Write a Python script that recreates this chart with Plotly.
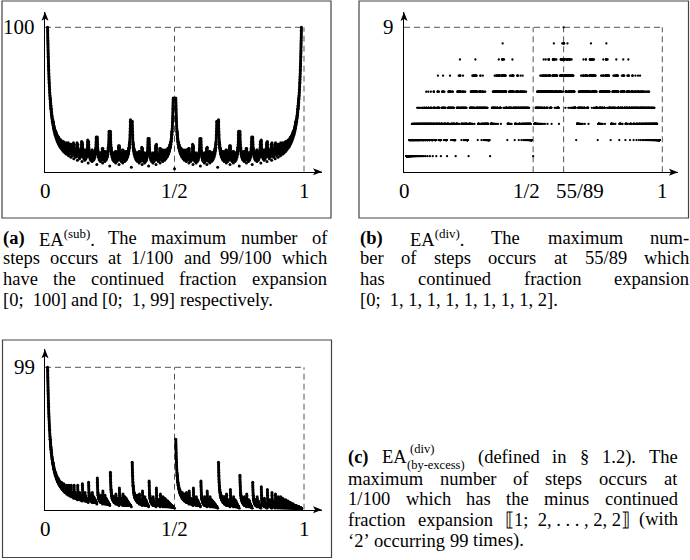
import math
import plotly.graph_objects as go

# ---------------- data ----------------
# Every reduced fraction p/q in (0,1) with denominator q <= 100,
# and the number of steps each Euclidean-algorithm variant needs for it.
MAX_DENOMINATOR = 100

fractions = [(p, q) for q in range(2, MAX_DENOMINATOR + 1)
             for p in range(1, q) if math.gcd(p, q) == 1]
x_values = [p / q for p, q in fractions]


def cf_quotients(p, q):
    """Partial quotients a1, a2, ... of p/q = [0; a1, a2, ...]."""
    out = []
    a, b = q, p
    while b:
        out.append(a // b)
        a, b = b, a % b
    return out


def by_excess_steps(p, q):
    num, den = q, q - p
    steps = 0
    while True:
        steps += 1
        a = -(-num // den)
        r = a * den - num
        if r == 0:
            return steps
        num, den = den, r


steps_sub = [sum(cf_quotients(p, q)) for p, q in fractions]
steps_div = [len(cf_quotients(p, q)) for p, q in fractions]
steps_excess = [by_excess_steps(p, q) for p, q in fractions]

# tick labels
a_xtick_vals = [0, 0.5, 1]
a_xtick_text = ["0", "1/2", "1"]
a_ytick_val = 100
b_xtick_vals = [0, 0.5, 55 / 89, 1]
b_xtick_text = ["0", "1/2", "55/89", "1"]
b_ytick_val = 9
c_xtick_vals = [0, 0.5, 1]
c_xtick_text = ["0", "1/2", "1"]
c_ytick_val = 99

# ---------------- layout helpers ----------------
W, H = 690, 560


def px(x):
    return x / W


def py(y):
    return 1 - y / H


TICK_FONT = dict(family="Liberation Serif", size=21, color="black")
CAP_FONT_FAMILY = "Liberation Serif"
CAP_SIZE = 18.5
SUP_SIZE = 12.5

fig = go.Figure()

panels = [
    dict(xa="x", ya="y", ys=steps_sub, ms=3.0, ox=45, x1=304, tipx=322,
         oy=171.7, ymaxpx=27.3, tipy=11.7, ymax=a_ytick_val,
         xt=a_xtick_vals, xtt=a_xtick_text, xsh=[0, 0, 0], dashed_x=[0.5, 1]),
    dict(xa="x2", ya="y2", ys=steps_div, ms=2.3, ox=404, x1=662.3, tipx=678,
         oy=172.3, ymaxpx=27.3, tipy=12, ymax=b_ytick_val,
         xt=b_xtick_vals, xtt=b_xtick_text, xsh=[0, -6.5, 16.4, 0], dashed_x=[0.5, 55 / 89, 1]),
    dict(xa="x3", ya="y3", ys=steps_excess, ms=3.0, ox=45, x1=304, tipx=322,
         oy=509.7, ymaxpx=367.3, tipy=349.3, ymax=c_ytick_val,
         xt=c_xtick_vals, xtt=c_xtick_text, xsh=[0, 0, 0], dashed_x=[0.5, 1]),
]

shapes = []
annotations = []
layout_axes = {}

for i, pn in enumerate(panels):
    n = "" if i == 0 else str(i + 1)
    fig.add_trace(go.Scatter(
        x=x_values, y=pn["ys"], mode="markers", xaxis=pn["xa"], yaxis=pn["ya"],
        marker=dict(color="black", size=pn["ms"], line=dict(width=0)),
        showlegend=False, hoverinfo="skip"))
    xspan = (pn["tipx"] - pn["ox"]) / (pn["x1"] - pn["ox"])
    yscale = (pn["oy"] - pn["ymaxpx"]) / pn["ymax"]
    yspan = (pn["oy"] - pn["tipy"]) / yscale
    layout_axes["xaxis" + n] = dict(
        domain=[px(pn["ox"]), px(pn["tipx"])], range=[0, xspan],
        anchor=pn["ya"], showgrid=False, zeroline=False, showticklabels=False,
        ticks="", showline=True, linecolor="black", linewidth=1.3)
    layout_axes["yaxis" + n] = dict(
        domain=[py(pn["oy"]), py(pn["tipy"])], range=[0, yspan],
        anchor=pn["xa"], showgrid=False, zeroline=False, showticklabels=False,
        ticks="", showline=True, linecolor="black", linewidth=1.3)
    dash = dict(color="#555555", width=1, dash="6px,4px")
    shapes.append(dict(type="line", xref=pn["xa"], yref=pn["ya"], x0=0, x1=1,
                       y0=pn["ymax"], y1=pn["ymax"], line=dash, layer="below"))
    for dx in pn["dashed_x"]:
        shapes.append(dict(type="line", xref=pn["xa"], yref=pn["ya"], x0=dx, x1=dx,
                           y0=0, y1=pn["ymax"], line=dash, layer="below"))
    tx, ty = pn["tipx"], pn["oy"]
    shapes.append(dict(type="path", xref="paper", yref="paper",
                       path=f"M {px(tx)},{py(ty)} L {px(tx-9)},{py(ty-3.5)} L {px(tx-7)},{py(ty)} L {px(tx-9)},{py(ty+3.5)} Z",
                       fillcolor="black", line=dict(width=0)))
    tx, ty = pn["ox"], pn["tipy"]
    shapes.append(dict(type="path", xref="paper", yref="paper",
                       path=f"M {px(tx)},{py(ty)} L {px(tx-3.5)},{py(ty+9)} L {px(tx)},{py(ty+7)} L {px(tx+3.5)},{py(ty+9)} Z",
                       fillcolor="black", line=dict(width=0)))
    for v, t, s in zip(pn["xt"], pn["xtt"], pn["xsh"]):
        annotations.append(dict(x=v, y=0, xref=pn["xa"], yref=pn["ya"], text=t,
                                showarrow=False, xanchor="center", yanchor="middle",
                                yshift=-19, xshift=s, font=TICK_FONT))
    annotations.append(dict(x=0, y=pn["ymax"], xref=pn["xa"], yref=pn["ya"],
                            text=str(pn["ymax"]), showarrow=False, xanchor="right",
                            yanchor="middle", xshift=-8, font=TICK_FONT))

frame = dict(color="#444444", width=1.2)
for x0, y0, x1, y1 in [(2, 1, 331, 218), (359, 1, 688.5, 218), (2.5, 340, 331.5, 557.5)]:
    shapes.append(dict(type="rect", xref="paper", yref="paper", x0=px(x0), x1=px(x1),
                       y0=py(y0), y1=py(y1), line=frame, fillcolor="rgba(0,0,0,0)"))

# ---------------- captions (justified) ----------------
# Times / Liberation Serif advance widths (em)
CW = {" ": .25, "(": .333, ")": .333, ",": .25, "-": .333, ".": .25, "/": .278, ";": .278,
      "[": .333, "]": .333, "§": .5, "‘": .333, "’": .333, "⟦": .4, "⟧": .4,
      "a": .444, "b": .5, "c": .444, "d": .5, "e": .444, "f": .333, "g": .5, "h": .5, "i": .278,
      "j": .278, "k": .5, "l": .278, "m": .778, "n": .5, "o": .5, "p": .5, "q": .5, "r": .333,
      "s": .389, "t": .278, "u": .5, "v": .5, "w": .722, "x": .5, "y": .5, "z": .444,
      "A": .722, "E": .611, "T": .611}
BOLD = {"(": .333, ")": .333, "a": .5, "b": .556, "c": .444}


def text_w(s, size, bold=False):
    tbl = BOLD if bold else CW
    return sum(tbl.get(ch, CW.get(ch, .5)) for ch in s) * size


def word_w(w):
    kind = w[0]
    if kind == "bold":
        return text_w(w[1], CAP_SIZE, True)
    if kind == "sup":
        return text_w(w[1], CAP_SIZE) + text_w(w[2], SUP_SIZE) + text_w(w[3], CAP_SIZE)
    if kind == "supsub":
        return text_w("EA", CAP_SIZE) + 1 + max(text_w(w[1], SUP_SIZE), text_w(w[2], SUP_SIZE))
    return text_w(w[1], CAP_SIZE)


def T(s):
    return ("t", s)


captions = [
    # (left, right, baseline, justified, words)
    (1.7, 326, 244.3, True, [("bold", "(a)"), ("sup", "EA", "(sub)", "."), T("The"), T("maximum"),
                              T("number"), T("of")]),
    (1.7, 326, 264.7, True, [T("steps"), T("occurs"), T("at"), T("1/100"), T("and"), T("99/100"), T("which")]),
    (1.7, 326, 285.3, True, [T("have"), T("the"), T("continued"), T("fraction"), T("expansion")]),
    (1.7, 326, 306.0, False, [T("[0;  100]"), T("and"), T("[0;  1, 99]"), T("respectively.")]),

    (359, 688.3, 244.3, True, [("bold", "(b)"), ("sup", "EA", "(div)", "."), T("The"), T("maximum"),
                                T("num-")]),
    (359, 688.3, 264.7, True, [T("ber"), T("of"), T("steps"), T("occurs"), T("at"), T("55/89"), T("which")]),
    (359, 688.3, 285.3, True, [T("has"), T("continued"), T("fraction"), T("expansion")]),
    (359, 688.3, 306.0, False, [T("[0;  1, 1, 1, 1, 1, 1, 1, 1, 2].")]),

    (347, 676.7, 463.5, True, [("bold", "(c)"), ("supsub", "(div)", "(by-excess)"), T("(defined"), T("in"),
                                T("§"), T("1.2)."), T("The")]),
    (347, 676.7, 485.0, True, [T("maximum"), T("number"), T("of"), T("steps"), T("occurs"), T("at")]),
    (347, 676.7, 505.5, True, [T("1/100"), T("which"), T("has"), T("the"), T("minus"), T("continued")]),
    (347, 676.7, 526.0, True, [T("fraction"), T("expansion"), T("⟦1;  2, . . . , 2, 2⟧"), T("(with")]),
    (347, 676.7, 547.0, False, [T("‘2’"), T("occurring"), T("99"), T("times).")]),
]

cap_font = dict(family=CAP_FONT_FAMILY, size=CAP_SIZE, color="black")
small = dict(family=CAP_FONT_FAMILY, size=SUP_SIZE, color="black")


def add_text(x, ymid, text, font):
    annotations.append(dict(x=px(x), y=py(ymid), xref="paper", yref="paper", text=text,
                            showarrow=False, xanchor="left", yanchor="middle",
                            font=font, borderpad=0))


for left, right, base, justified, words in captions:
    widths = [word_w(w) for w in words]
    if justified and len(words) > 1:
        gap = (right - left - sum(widths)) / (len(words) - 1)
    else:
        gap = CW[" "] * CAP_SIZE
    yc = base - 0.34 * CAP_SIZE
    x = left
    for w, wd in zip(words, widths):
        kind = w[0]
        if kind == "bold":
            add_text(x, yc, f"<b>{w[1]}</b>", cap_font)
        elif kind == "sup":
            add_text(x, yc, f"{w[1]}<sup>{w[2]}</sup>{w[3]}", cap_font)
        elif kind == "supsub":
            ea = text_w("EA", CAP_SIZE)
            add_text(x, yc, "EA", cap_font)
            add_text(x + ea + 4, base - 15, w[1], small)
            add_text(x + ea + 0.5, base + 1.5, w[2], small)
        else:
            add_text(x, yc, w[1], cap_font)
        x += wd + gap

fig.update_layout(
    width=W, height=H, margin=dict(l=0, r=0, t=0, b=0),
    paper_bgcolor="white", plot_bgcolor="white",
    shapes=shapes, annotations=annotations, showlegend=False,
    **layout_axes)

fig.write_html("out.html", post_script="document.body.style.margin='0px';",
               config={"displayModeBar": False})
